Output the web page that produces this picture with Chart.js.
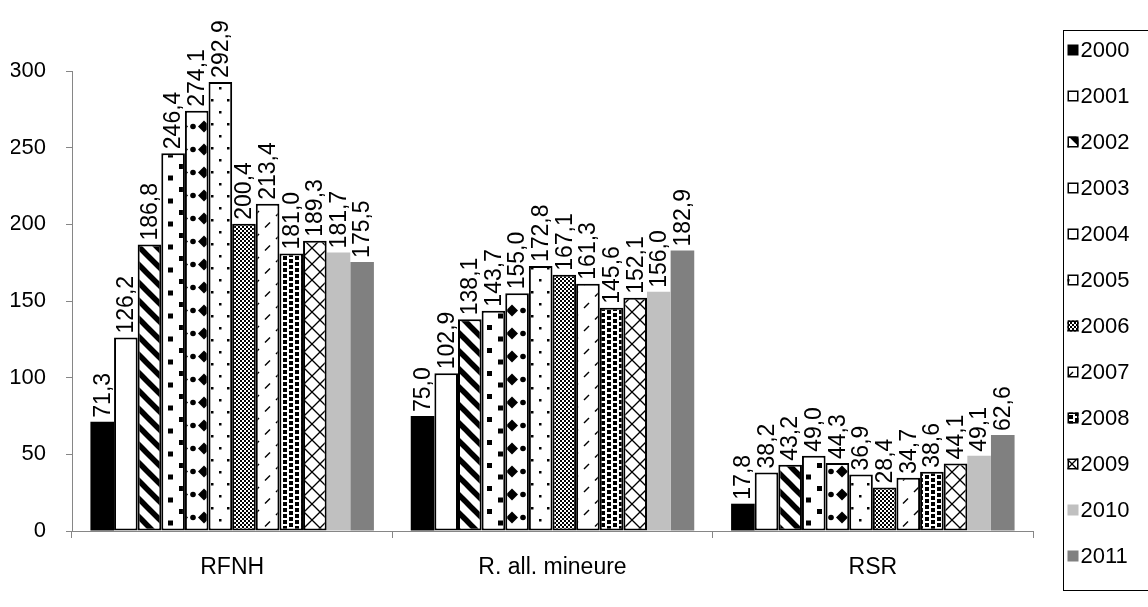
<!DOCTYPE html>
<html>
<head>
<meta charset="utf-8">
<script src="https://cdn.jsdelivr.net/npm/chart.js@4.4.1/dist/chart.umd.min.js"></script>
<style>
  html, body { margin: 0; padding: 0; background: #ffffff; }
  canvas { display: block; }
</style>
</head>
<body>
<canvas id="chart" width="1148" height="607"></canvas>
<script>
// Categories on the x axis
const categories = ['RFNH', 'R. all. mineure', 'RSR'];

// Series labels (one bar per year in each group)
const years = ['2000', '2001', '2002', '2003', '2004', '2005', '2006', '2007', '2008', '2009', '2010', '2011'];

// Values per year: [RFNH, R. all. mineure, RSR]
const values2000 = [71.3, 75.0, 17.8];
const values2001 = [126.2, 102.9, 38.2];
const values2002 = [186.8, 138.1, 43.2];
const values2003 = [246.4, 143.7, 49.0];
const values2004 = [274.1, 155.0, 44.3];
const values2005 = [292.9, 172.8, 36.9];
const values2006 = [200.4, 167.1, 28.4];
const values2007 = [213.4, 161.3, 34.7];
const values2008 = [181.0, 145.6, 38.6];
const values2009 = [189.3, 152.1, 44.1];
const values2010 = [181.7, 156.0, 49.1];
const values2011 = [175.5, 182.9, 62.6];

// Y axis range and tick step
const yMin = 0;
const yMax = 300;
const yStep = 50;

const seriesValues = [values2000, values2001, values2002, values2003, values2004, values2005,
  values2006, values2007, values2008, values2009, values2010, values2011];

const FONT = '"Liberation Sans", Arial, Helvetica, sans-serif';

// ---- fill patterns -------------------------------------------------------
function tile(w, h, draw) {
  const c = document.createElement('canvas');
  c.width = w; c.height = h;
  const g = c.getContext('2d');
  g.fillStyle = '#ffffff';
  g.fillRect(0, 0, w, h);
  g.fillStyle = '#000000';
  g.strokeStyle = '#000000';
  draw(g, w, h);
  return g.createPattern(c, 'repeat');
}

const pWideStripes = tile(18, 18, (g, w, h) => {
  g.lineWidth = 5.5;
  for (let k = -1; k <= 1; k++) {
    g.beginPath();
    g.moveTo(-3, -3 + k * h);
    g.lineTo(w + 3, h + 3 + k * h);
    g.stroke();
  }
});

const pSquares = tile(22, 23, (g) => {
  g.fillRect(3, 3, 5, 5);
  g.fillRect(14, 14.5, 5, 5);
});

const pDiamonds = tile(22, 23, (g) => {
  const d = (cx, cy, r) => {
    g.beginPath();
    g.moveTo(cx, cy - r); g.lineTo(cx + r, cy); g.lineTo(cx, cy + r); g.lineTo(cx - r, cy);
    g.closePath(); g.fill();
  };
  d(6, 11.5, 6);
  g.beginPath(); g.arc(17, 11.5, 2.8, 0, Math.PI * 2); g.fill();
});

const pSparseDots = tile(16, 24, (g) => {
  g.fillRect(3, 3, 2.5, 2.5);
  g.fillRect(11, 15, 2.5, 2.5);
});

const pChecker = tile(4, 4, (g) => {
  g.fillRect(0, 0, 2, 2);
  g.fillRect(2, 2, 2, 2);
});

const pDashes = tile(22, 23, (g) => {
  g.lineWidth = 1.4;
  g.beginPath(); g.moveTo(12, 9); g.lineTo(17, 4); g.stroke();
  g.beginPath(); g.moveTo(1, 20.5); g.lineTo(6, 15.5); g.stroke();
});

const pConfetti = tile(12, 12, (g) => {
  g.fillRect(1, 1, 4, 4);
  g.fillRect(1, 7, 4, 4);
  g.fillRect(7, 4, 4, 4);
  g.fillRect(7, 10, 4, 2);
  g.fillRect(7, 0, 4, 2);
});

const pTrellis = tile(16, 16, (g, w, h) => {
  g.lineWidth = 1.3;
  for (let k = -1; k <= 1; k++) {
    g.beginPath(); g.moveTo(-2, -2 + k * h); g.lineTo(w + 2, h + 2 + k * h); g.stroke();
    g.beginPath(); g.moveTo(-2, h + 2 + k * h); g.lineTo(w + 2, -2 + k * h); g.stroke();
  }
});

const fills = ['#000000', '#ffffff', pWideStripes, pSquares, pDiamonds, pSparseDots,
  pChecker, pDashes, pConfetti, pTrellis, '#c0c0c0', '#808080'];
const borderWidths = [0, 2, 2, 2, 2, 2, 2, 2, 2, 2, 0, 0];

const datasets = years.map((yr, i) => ({
  label: yr,
  data: seriesValues[i],
  backgroundColor: fills[i],
  borderColor: '#000000',
  borderWidth: borderWidths[i],
  borderSkipped: false
}));

// ---- value labels, written vertically above each bar ----------------------
const valueLabels = {
  id: 'valueLabels',
  afterDatasetsDraw(chart) {
    const ctx = chart.ctx;
    ctx.save();
    ctx.fillStyle = '#000000';
    ctx.font = '23px ' + FONT;
    ctx.textAlign = 'left';
    ctx.textBaseline = 'middle';
    chart.data.datasets.forEach((ds, i) => {
      const meta = chart.getDatasetMeta(i);
      meta.data.forEach((bar, j) => {
        const text = ds.data[j].toFixed(1).replace('.', ',');
        ctx.save();
        ctx.translate(bar.x, bar.y - 4);
        ctx.rotate(-Math.PI / 2);
        ctx.fillText(text, 0, 1);
        ctx.restore();
      });
    });
    ctx.restore();
  }
};

// ---- framed legend on the right -------------------------------------------
const boxLegend = {
  id: 'boxLegend',
  afterDraw(chart) {
    const ctx = chart.ctx;
    const left = chart.chartArea.right + 30.5;
    const top = 30.5;
    const bottom = 590.5;
    ctx.save();
    ctx.strokeStyle = '#000000';
    ctx.lineWidth = 1;
    ctx.strokeRect(left, top, chart.width - left + 5, bottom - top);
    ctx.font = '22px ' + FONT;
    ctx.textAlign = 'left';
    ctx.textBaseline = 'middle';
    chart.data.datasets.forEach((ds, i) => {
      const cy = 50 + i * 46;
      const bx = left + 4;
      ctx.fillStyle = ds.backgroundColor;
      ctx.fillRect(bx, cy - 5.5, 11, 11);
      if (ds.borderWidth > 0) {
        ctx.lineWidth = 1.5;
        ctx.strokeStyle = '#000000';
        ctx.strokeRect(bx + 0.75, cy - 4.75, 9.5, 9.5);
      }
      ctx.fillStyle = '#000000';
      ctx.fillText(ds.label, bx + 13, cy + 1);
    });
    ctx.restore();
  }
};

new Chart(document.getElementById('chart'), {
  type: 'bar',
  data: { labels: categories, datasets },
  options: {
    responsive: false,
    devicePixelRatio: 1,
    animation: false,
    layout: { padding: { left: 11, right: 115, top: 71, bottom: 26 } },
    datasets: { bar: { categoryPercentage: 0.885, barPercentage: 1 } },
    plugins: {
      legend: { display: false },
      tooltip: { enabled: false }
    },
    scales: {
      x: {
        grid: { display: true, drawOnChartArea: false, drawTicks: true, tickLength: 7, color: '#868686', offset: true },
        border: { display: true, color: '#868686', width: 1 },
        ticks: { color: '#000000', font: { family: FONT, size: 23 }, padding: 16 },
        afterFit(scale) { scale.height = 50; }
      },
      y: {
        min: yMin,
        max: yMax,
        grid: { display: true, drawOnChartArea: false, drawTicks: true, tickLength: 6, color: '#868686' },
        border: { display: true, color: '#868686', width: 1 },
        ticks: { stepSize: yStep, color: '#000000', font: { family: FONT, size: 22 }, padding: 20 },
        afterFit(scale) { scale.width = 61; }
      }
    }
  },
  plugins: [valueLabels, boxLegend]
});
</script>
</body>
</html>
